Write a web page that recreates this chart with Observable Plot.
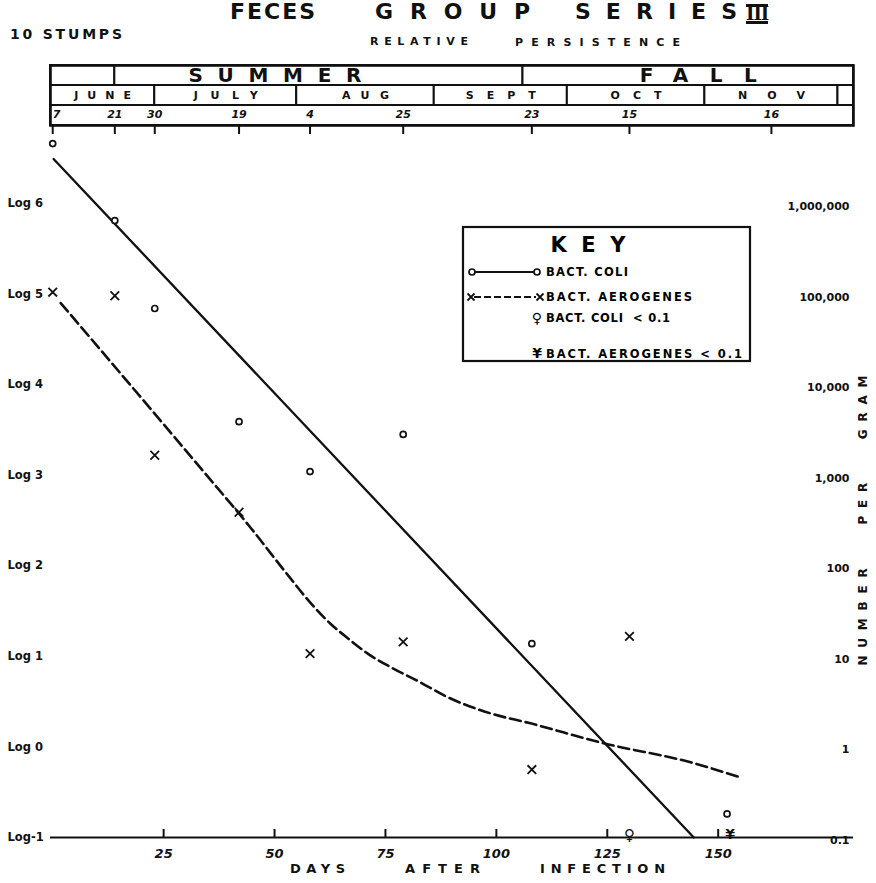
<!DOCTYPE html>
<html><head><meta charset="utf-8">
<script src="https://cdn.jsdelivr.net/npm/d3@7"></script>
<script src="https://cdn.jsdelivr.net/npm/@observablehq/plot@0.6"></script>
<style>
body{margin:0;background:#fff;}
#wrap{position:relative;width:876px;height:883px;overflow:hidden;font-family:"DejaVu Sans",sans-serif;font-weight:bold;color:#111;}
.t{position:absolute;white-space:pre;line-height:1;}
</style></head><body><div id="wrap"></div>
<script>
// ---------- data ----------
const coliDays = [0, 14, 23, 42, 58, 79, 108, 152];
const coliLog  = [6.66, 5.81, 4.84, 3.59, 3.04, 3.45, 1.14, -0.74];
const aeroDays = [0, 14, 23, 42, 58, 79, 108, 130];
const aeroLog  = [5.02, 4.98, 3.22, 2.59, 1.03, 1.16, -0.25, 1.22];
const coliBelowDays = [130];   // Bact. coli < 0.1
const aeroBelowDays = [152];   // Bact. aerogenes < 0.1
const floorLog = -1;
const coliFitDays = [0.2, 144.5];
const coliFitLog  = [6.49, -1];
const aeroFitDays = [1.8, 33.3, 44.6, 53.6, 58.1, 62.6, 66.5, 71.0, 76.2, 82.2, 89.0, 98.7, 107.7, 124.2, 143.8, 154.6];
const aeroFitLog  = [4.90, 3.08, 2.42, 1.86, 1.59, 1.36, 1.20, 1.03, 0.88, 0.73, 0.55, 0.37, 0.26, 0.04, -0.17, -0.33];
const logTicks = [-1, 0, 1, 2, 3, 4, 5, 6];
const leftTickLabels  = ["Log-1", "Log 0", "Log 1", "Log 2", "Log 3", "Log 4", "Log 5", "Log 6"];
const rightTickLabels = ["0.1", "1", "10", "100", "1,000", "10,000", "100,000", "1,000,000"];
const dayTicks = [25, 50, 75, 100, 125, 150];
const sampleDays  = [0, 14, 23, 42, 58, 79, 108, 130, 162];
const sampleDates = ["7", "21", "30", "19", "4", "25", "23", "15", "16"];
const seasons     = ["", "SUMMER", "FALL"];
const seasonStart = [-0.5, 14, 106];
const seasonEnd   = [14, 106, 180.5];
const months      = ["JUNE", "JULY", "AUG", "SEPT", "OCT", "NOV", ""];
const monthStart  = [-0.5, 23, 55, 86, 116, 147, 177];
const monthEnd    = [23, 55, 86, 116, 147, 177, 180.5];
const keyLabels = ["BACT. COLI", "BACT. AEROGENES", "BACT. COLI  < 0.1", "BACT. AEROGENES < 0.1"];
const yTitle = "NUMBER\u00a0\u00a0\u00a0PER\u00a0\u00a0\u00a0GRAM";

// ---------- tables ----------
const coli = coliDays.map((d, i) => ({day: d, log: coliLog[i]}));
const aero = aeroDays.map((d, i) => ({day: d, log: aeroLog[i]}));
const coliBelow = coliBelowDays.map(d => ({day: d, log: floorLog}));
const aeroBelow = aeroBelowDays.map(d => ({day: d, log: floorLog}));
const coliFit = coliFitDays.map((d, i) => ({day: d, log: coliFitLog[i]}));
const aeroFit = aeroFitDays.map((d, i) => ({day: d, log: aeroFitLog[i]}));
const xDomain = [-0.5, 180.5];
const rows = ["season", "month", "date"];
const cells = [
  ...seasons.map((s, i) => ({row: "season", label: s, x1: seasonStart[i], x2: seasonEnd[i]})),
  ...months.map((m, i) => ({row: "month", label: m, x1: monthStart[i], x2: monthEnd[i]})),
  {row: "date", label: "", x1: xDomain[0], x2: xDomain[1]}
];
const dates = sampleDays.map((d, i) => ({row: "date", day: d, label: sampleDates[i]}));

const FONT = "DejaVu Sans, sans-serif";
const W = 876, ML = 50, MR = 23;
const INK = "#111";
const wrap = document.getElementById("wrap");

// ---------- main chart ----------
const main = Plot.plot({
  width: W, height: 758, marginLeft: ML, marginRight: MR, marginTop: 0, marginBottom: 46,
  style: {fontFamily: FONT, fontWeight: "bold", color: INK, background: "none", overflow: "visible"},
  x: {domain: xDomain},
  y: {domain: [-1, 6.86], axis: null},
  marks: [
    Plot.ruleY([floorLog], {stroke: INK, strokeWidth: 2.2}),
    Plot.axisX({ticks: dayTicks, tickSize: -8, tickFormat: () => "", strokeWidth: 2, label: null}),
    Plot.axisX({ticks: dayTicks, tickSize: 0, tickPadding: 11, fontSize: 13, fontStyle: "italic", label: null}),
    Plot.text(logTicks, {y: d => d, frameAnchor: "left", textAnchor: "start", dx: -43, fontSize: 11.5,
      text: (d, i) => leftTickLabels[i]}),
    Plot.text(logTicks, {y: d => d, frameAnchor: "right", textAnchor: "end", dx: -4, dy: 3, fontSize: 11,
      text: (d, i) => rightTickLabels[i]}),
    Plot.text([yTitle], {frameAnchor: "right", textAnchor: "middle", rotate: -90, dx: 10, dy: 39, fontSize: 12}),
    Plot.line(aeroFit, {x: "day", y: "log", curve: "monotone-x", stroke: INK, strokeWidth: 2.6, strokeDasharray: "11,5"}),
    Plot.line(coliFit, {x: "day", y: "log", stroke: INK, strokeWidth: 2.3}),
    Plot.dot(coli, {x: "day", y: "log", r: 3, stroke: INK, strokeWidth: 1.7, fill: "white"}),
    Plot.dot(aero, {x: "day", y: "log", symbol: "times", r: 4, stroke: INK, strokeWidth: 1.8}),
    Plot.text(coliBelow, {x: "day", y: "log", text: () => "\u2640", lineAnchor: "bottom", fontSize: 15, dy: 2}),
    Plot.text(aeroBelow, {x: "day", y: "log", text: () => "\u00a5", lineAnchor: "bottom", fontSize: 14, dy: 1, dx: 3})
  ]
});
main.style.position = "absolute"; main.style.left = "0px"; main.style.top = "125px";
wrap.appendChild(main);

// ---------- header calendar ----------
const header = Plot.plot({
  width: W, height: 80, marginLeft: ML, marginRight: MR, marginTop: 5, marginBottom: 15,
  style: {fontFamily: FONT, fontWeight: "bold", color: INK, background: "none", overflow: "visible"},
  x: {domain: xDomain},
  y: {type: "band", domain: rows, padding: 0, axis: null},
  marks: [
    Plot.barX(cells, {x1: "x1", x2: "x2", y: "row", fill: "white", stroke: INK, strokeWidth: 2}),
    Plot.frame({stroke: INK, strokeWidth: 2.6}),
    Plot.text(cells.filter(d => d.label === "SUMMER"), {x: d => (d.x1 + d.x2) / 2, y: "row", text: "label", fontSize: 20, dx: -44}),
    Plot.text(cells.filter(d => d.label === "FALL"), {x: d => (d.x1 + d.x2) / 2, y: "row", text: "label", fontSize: 20, dx: 10}),
    Plot.text(cells.filter(d => d.row === "month" && d.label), {x: d => (d.x1 + d.x2) / 2, y: "row", text: "label", fontSize: 11}),
    Plot.text(dates.slice(0, 1), {x: "day", y: "row", text: "label", textAnchor: "start", dx: 0, dy: -1, fontSize: 11, fontStyle: "italic"}),
    Plot.text(dates.slice(1), {x: "day", y: "row", text: "label", dy: -1, fontSize: 11, fontStyle: "italic"}),
    Plot.axisX({ticks: sampleDays, tickSize: 9, tickFormat: () => "", strokeWidth: 2, label: null})
  ]
});
header.style.position = "absolute"; header.style.left = "0px"; header.style.top = "60px";
wrap.appendChild(header);

// letter-spacing helpers
function byText(root, txt) {
  return Array.from(root.querySelectorAll("text")).filter(el => el.textContent === txt);
}
function fitSvg(nodes, width, anchorMiddle) {
  Array.from(nodes).forEach(function(el) {
    const len = el.getComputedTextLength();
    const n = el.textContent.length;
    if (n < 2) return;
    const ls = (width - len) / (n - 1);
    el.style.letterSpacing = ls + "px";
    if (anchorMiddle) el.setAttribute("dx", ls / 2);
  });
}
const labelW = {SUMMER: 173, FALL: 117, JUNE: 57, JULY: 64, AUG: 47, SEPT: 70, OCT: 51, NOV: 67};
Object.keys(labelW).forEach(k => fitSvg(byText(header, k), labelW[k], true));
fitSvg(byText(main, yTitle), 290, true);

function addLabel(txt, left, capTop, width, fs, extra) {
  const s = document.createElement("span");
  s.className = "t"; s.textContent = txt; s.style.fontSize = fs + "px";
  s.style.left = left + "px"; s.style.top = (capTop - 0.12 * fs) + "px";
  if (extra) Object.assign(s.style, extra);
  wrap.appendChild(s);
  if (width && txt.length > 1) {
    const nat = s.getBoundingClientRect().width;
    const ls = (width - nat) / (txt.length - 1);
    s.textContent = "";
    const head = document.createElement("span");
    head.style.letterSpacing = ls + "px";
    head.textContent = txt.slice(0, -1);
    s.appendChild(head);
    s.appendChild(document.createTextNode(txt.slice(-1)));
  }
  return s;
}
// titles
addLabel("FECES", 230, 4, 85, 22);
addLabel("GROUP", 375, 4, 155, 22);
addLabel("SERIES", 575, 4, 162, 22);
addLabel("III", 746, 6, 0, 18, {borderTop: "3px solid #111", borderBottom: "3px solid #111", lineHeight: "0.8", letterSpacing: "-1px", fontFamily: "DejaVu Serif, serif"});
addLabel("10 STUMPS", 10, 29, 112, 14);
addLabel("RELATIVE", 370, 37, 98, 11);
addLabel("PERSISTENCE", 515, 38, 165, 11);
addLabel("DAYS", 290, 864, 55, 13);
addLabel("AFTER", 405, 864, 75, 13);
addLabel("INFECTION", 540, 864, 125, 13);

// ---------- key ----------
const key = d3.create("svg").attr("width", 296).attr("height", 142)
  .style("position", "absolute").style("left", "460px").style("top", "224px")
  .style("font-family", FONT).style("font-weight", "bold");
key.append("rect").attr("x", 3).attr("y", 3).attr("width", 287).attr("height", 134)
  .attr("fill", "white").attr("stroke", INK).attr("stroke-width", 2.2);
wrap.appendChild(key.node());
const kt = key.append("text").attr("x", 128).attr("y", 28).attr("text-anchor", "middle").attr("font-size", 21).text("KEY");
fitSvg([kt.node()], 75, true);
// row 1
key.append("line").attr("x1", 12).attr("x2", 77).attr("y1", 48).attr("y2", 48).attr("stroke", INK).attr("stroke-width", 2);
key.selectAll("circle").data([12, 77]).join("circle").attr("cx", d => d).attr("cy", 48).attr("r", 3)
  .attr("fill", "white").attr("stroke", INK).attr("stroke-width", 1.7);
// row 2
key.append("line").attr("x1", 14).attr("x2", 76).attr("y1", 73).attr("y2", 73).attr("stroke", INK).attr("stroke-width", 2).attr("stroke-dasharray", "7,3");
[11, 80].forEach(cx => {
  key.append("path").attr("d", `M${cx-3.5},${73-3.5}L${cx+3.5},${73+3.5}M${cx-3.5},${73+3.5}L${cx+3.5},${73-3.5}`)
    .attr("stroke", INK).attr("stroke-width", 1.8);
});
// rows 3-4 symbols
key.append("text").attr("x", 77).attr("y", 99).attr("text-anchor", "middle").attr("font-size", 14).text("\u2640");
key.append("text").attr("x", 77).attr("y", 134).attr("text-anchor", "middle").attr("font-size", 14).text("\u00a5");
const keyY = [52, 77, 98, 134];
const keyW = [82, 146, 124, 196];
keyLabels.forEach((lab, i) => {
  const t = key.append("text").attr("x", 86).attr("y", keyY[i]).attr("font-size", 11.5).style("white-space", "pre").text(lab);
  fitSvg([t.node()], keyW[i], false);
});
</script></body></html>
